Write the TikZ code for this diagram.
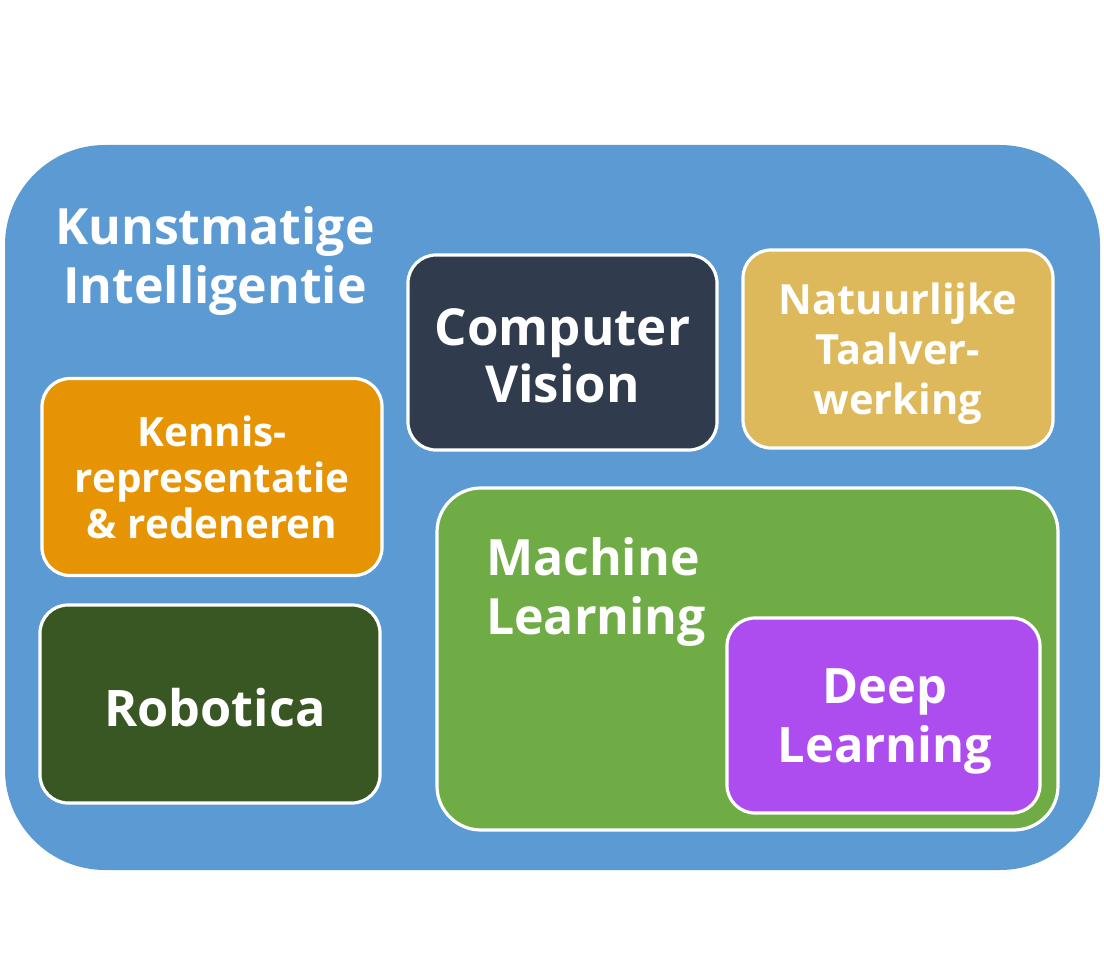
\documentclass[tikz,border=0pt]{standalone}
\usepackage{fontspec}
\setsansfont{Open Sans}
\usepackage{tikz}
\usetikzlibrary{positioning}
\definecolor{kiblue}{HTML}{5B9AD2}
\definecolor{kiorange}{HTML}{E69304}
\definecolor{kinavy}{HTML}{303C4E}
\definecolor{kisand}{HTML}{DDB95B}
\definecolor{kigreen}{HTML}{70AC46}
\definecolor{kiforest}{HTML}{385723}
\definecolor{kipurple}{HTML}{AD4DF0}
\tikzset{
	field/.style={draw=white, line width=1.6pt, rounded corners=14pt, text=white,
		font=\sffamily\bfseries, align=center, inner sep=0pt},
}

\begin{document}
\begin{tikzpicture}[x=0.5pt, y=-0.5pt]
		%%%%% START %%%%%
		
		\useasboundingbox (0, 0) rectangle (1104, 973);
		
		\node[fill=kiblue, rounded corners=50pt, minimum width=547.5pt, minimum height=362.5pt, inner sep=0pt] (ki) at (552.5, 507.5) {};
		\node[text=white, font=\sffamily\bfseries\fontsize{25}{29.5}\selectfont, align=center] (kititle) at (215, 261) {Kunstmatige\\Intelligentie};
		
		\node[field, fill=kiorange, minimum width=170pt, minimum height=98.5pt, font=\sffamily\bfseries\fontsize{20.2}{23}\selectfont] (kennis) at (212, 477) {Kennis-\\representatie\\\& redeneren};
		\node[field, fill=kiforest, minimum width=170pt, minimum height=99pt, font=\sffamily\bfseries\fontsize{25.2}{30}\selectfont] (robotica) at (210, 704) {};
		\node[text=white, font=\sffamily\bfseries\fontsize{25.2}{30}\selectfont] (robtitle) at (215, 708) {Robotica};
		
		\node[field, fill=kinavy, minimum width=154.5pt, minimum height=97.5pt] (vision) at (562.5, 352.5) {};
		\node[text=white, font=\sffamily\bfseries\fontsize{25.5}{28.5}\selectfont, align=center] (vistitle) at (562.5, 356) {Computer\\Vision};
		\node[field, fill=kisand, minimum width=155pt, minimum height=99pt] (taal) at (898, 349) {};
		\node[text=white, font=\sffamily\bfseries\fontsize{20.8}{25}\selectfont, align=center] (taaltitle) at (898, 354) {Natuurlijke\\Taalver-\\werking};
		
		\node[field, fill=kigreen, rounded corners=22pt, minimum width=310.5pt, minimum height=171pt] (ml) at (747.5, 659) {};
		\node[text=white, font=\sffamily\bfseries\fontsize{25}{29.5}\selectfont, align=left, anchor=west] (mltitle) at (479, 592) {Machine\\Learning};
		\node[field, fill=kipurple, minimum width=156.5pt, minimum height=97.5pt] (deep) at (883.5, 715.5) {};
		\node[text=white, font=\sffamily\bfseries\fontsize{24.4}{29.5}\selectfont, align=center] (deeptitle) at (885, 721) {Deep\\Learning};
		
		%%%%% END %%%%%
	\end{tikzpicture}
\end{document}
